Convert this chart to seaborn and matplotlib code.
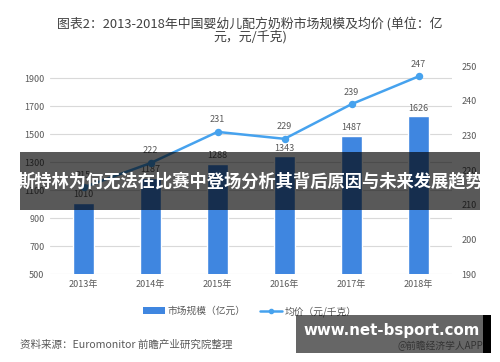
import matplotlib
matplotlib.use("Agg")
import matplotlib.pyplot as plt
import seaborn as sns
import pandas as pd
from matplotlib.patches import Rectangle
from matplotlib.lines import Line2D
from matplotlib.patches import Patch

years = ["2013年", "2014年", "2015年", "2016年", "2017年", "2018年"]
market_size = [1010, 1187, 1288, 1343, 1487, 1626]
avg_price = [215, 222, 231, 229, 239, 247]
left_ticks = [500, 700, 900, 1100, 1300, 1500, 1700, 1900]
right_ticks = [190, 200, 210, 220, 230, 240, 250]

bar_color = "#3F86E0"
line_color = "#46A2EE"
text_gray = "#595959"

sns.set_theme(style="white")
plt.rcParams["font.family"] = ["Noto Sans CJK SC", "DejaVu Sans"]

df = pd.DataFrame({"year": years, "size": market_size, "price": avg_price})

fig = plt.figure(figsize=(5, 3.62), dpi=100)
ax = fig.add_axes([0.1, 0.243, 0.804, 0.5746])

sns.barplot(data=df, x="year", y="size", ax=ax, color=bar_color, width=0.31,
            saturation=1)
ax.set_ylim(500, 1986)
ax.set_yticks(left_ticks)
ax.set_xlim(-0.5, 5.5)
ax.yaxis.grid(True, color="#D9D9D9", linewidth=0.8)
ax.set_axisbelow(True)
for s in ax.spines.values():
    s.set_visible(False)
ax.set_xlabel("")
ax.set_ylabel("")
ax.tick_params(axis="both", labelsize=6.5, colors=text_gray, length=0, pad=4)
for i, v in enumerate(market_size):
    ax.text(i, v + 25, str(v), ha="center", va="bottom", fontsize=6.5, color=text_gray)

ax2 = ax.twinx()
sns.pointplot(data=df, x="year", y="price", ax=ax2, color=line_color,
              markers="o", markersize=4, linewidth=1.8)
ax2.set_ylim(190, 250)
ax2.set_yticks(right_ticks)
ax2.set_xlim(-0.5, 5.5)
for s in ax2.spines.values():
    s.set_visible(False)
ax2.set_ylabel("")
ax2.set_xlabel("")
ax2.tick_params(axis="y", labelsize=6.5, colors=text_gray, length=0, pad=7)
for i, v in enumerate(avg_price):
    ax2.text(i, v + 2.2, str(v), ha="center", va="bottom", fontsize=6.5, color=text_gray)

fig.text(0.5, 0.955, "图表2：2013-2018年中国婴幼儿配方奶粉市场规模及均价 (单位：亿\n元，元/千克)",
         ha="center", va="top", fontsize=9.3, color="#404040", linespacing=0.95)

handles = [Patch(facecolor=bar_color, edgecolor="none"),
           Line2D([0], [0], color=line_color, marker="o", markersize=3, linewidth=1.8)]
fig.legend(handles, ["市场规模（亿元）", "均价（元/千克）"], loc="center",
           bbox_to_anchor=(0.5, 0.14), ncol=2, frameon=False, fontsize=7,
           labelcolor=text_gray, handlelength=2.2, columnspacing=1.5, handletextpad=0.3)

fig.text(0.04, 0.047, "资料来源：Euromonitor 前瞻产业研究院整理", ha="left", va="center",
         fontsize=7.6, color=text_gray)

# overlay banner
fig.patches.append(Rectangle((0.04, 1 - 210 / 362), 0.92, 58 / 362, transform=fig.transFigure,
                             facecolor="black", alpha=0.65, edgecolor="none", zorder=10))
fig.text(0.5, 1 - 181 / 362, "斯特林为何无法在比赛中登场分析其背后原因与未来发展趋势",
         ha="center", va="center", fontsize=12.4, fontweight="bold", color="white", zorder=11)

fig.patches.append(Rectangle((296 / 500, 1 - 353 / 362), 187 / 500, 38 / 362,
                             transform=fig.transFigure, facecolor="black", alpha=0.6,
                             edgecolor="none", zorder=10))
fig.patches.append(Rectangle((483 / 500, 1 - 353 / 362), 8 / 500, 38 / 362,
                             transform=fig.transFigure, facecolor="black",
                             edgecolor="none", zorder=10))
fig.text(392 / 500, 1 - 330 / 362, "www.net-bsport.com", ha="center", va="center",
         fontsize=10.8, fontweight="bold", color="white", family="DejaVu Sans", zorder=11)
fig.text(483 / 500, 1 - 346 / 362, "@前瞻经济学人APP", ha="right", va="center",
         fontsize=7, color="#333333", zorder=11)

fig.savefig("out.png", dpi=100)
